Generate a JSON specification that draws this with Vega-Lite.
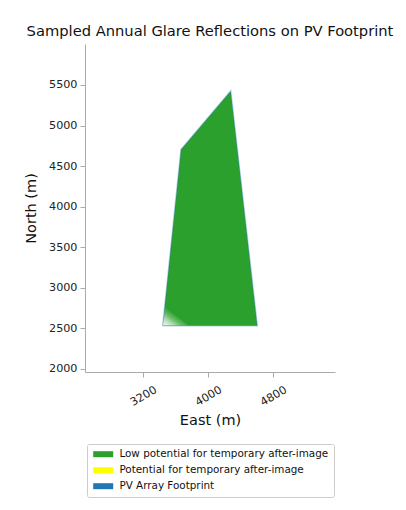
{
  "$schema": "https://vega.github.io/schema/vega-lite/v6.json",
  "width": 250,
  "height": 328,
  "autosize": "none",
  "padding": {"left": 85, "top": 44, "right": 71, "bottom": 138},
  "background": "white",
  "title": {
    "text": "Sampled Annual Glare Reflections on PV Footprint",
    "font": "DejaVu Sans",
    "fontSize": 14.7,
    "fontWeight": "normal",
    "color": "#111",
    "anchor": "middle",
    "offset": 5
  },
  "config": {
    "view": {"stroke": null},
    "font": "DejaVu Sans",
    "axis": {
      "grid": false,
      "domainColor": "#aaaaaa",
      "tickColor": "#aaaaaa",
      "tickSize": 5,
      "format": "d",
      "labelFont": "DejaVu Sans",
      "labelFontSize": 11.2,
      "labelColor": "#222",
      "titleFont": "DejaVu Sans",
      "titleFontSize": 14.5,
      "titleFontWeight": "normal",
      "titleColor": "#111"
    }
  },
  "datasets": {
    "fill": [
      {"north": 2533, "east_left": 3439, "east_right": 4603, "category": "Low potential for temporary after-image"},
      {"north": 4705, "east_left": 3664, "east_right": 4358, "category": "Low potential for temporary after-image"},
      {"north": 5427, "east_left": 4276, "east_right": 4276, "category": "Low potential for temporary after-image"}
    ],
    "gap": [
      {"north": 2533, "east_left": 3439, "east_right": 3760},
      {"north": 2760, "east_left": 3463, "east_right": 3463}
    ],
    "outline": [
      {"order": 1, "east": 3439, "north": 2533},
      {"order": 2, "east": 4603, "north": 2533},
      {"order": 3, "east": 4276, "north": 5427},
      {"order": 4, "east": 3664, "north": 4705},
      {"order": 5, "east": 3439, "north": 2533}
    ]
  },
  "layer": [
    {
      "data": {"name": "fill"},
      "mark": {"type": "area", "orient": "horizontal", "opacity": 1},
      "encoding": {
        "y": {
          "field": "north", "type": "quantitative",
          "scale": {"domain": [1963, 6005], "zero": false, "nice": false},
          "axis": {"title": "North (m)", "values": [2000, 2500, 3000, 3500, 4000, 4500, 5000, 5500], "labelPadding": 3, "titlePadding": 10}
        },
        "x": {
          "field": "east_left", "type": "quantitative",
          "scale": {"domain": [2483, 5559], "zero": false, "nice": false},
          "axis": {"title": "East (m)", "values": [3200, 4000, 4800], "labelAngle": -30, "labelAlign": "center", "labelBaseline": "middle", "labelPadding": 19, "titlePadding": 6}
        },
        "x2": {"field": "east_right"},
        "color": {
          "field": "category", "type": "nominal",
          "scale": {
            "domain": ["Low potential for temporary after-image", "Potential for temporary after-image", "PV Array Footprint"],
            "range": ["#2ca02c", "#ffff00", "#1f77b4"]
          },
          "legend": {
            "title": null,
            "orient": "none",
            "legendX": 2,
            "legendY": 400,
            "direction": "vertical",
            "fillColor": "white",
            "strokeColor": "#cccccc",
            "cornerRadius": 2,
            "padding": 5,
            "symbolType": "M-2,-0.6H2V0.6H-2Z",
            "symbolSize": 100,
            "symbolOffset": 6,
            "symbolStrokeWidth": 0,
            "symbolOpacity": 1,
            "labelFont": "DejaVu Sans",
            "labelFontSize": 10.4,
            "labelColor": "#111",
            "labelOffset": 11,
            "rowPadding": 5,
            "labelLimit": 300
          }
        }
      }
    },
    {
      "data": {"name": "gap"},
      "mark": {
        "type": "area", "orient": "horizontal",
        "color": {
          "gradient": "linear", "x1": 0, "y1": 1, "x2": 0.7, "y2": 0.3,
          "stops": [
            {"offset": 0, "color": "rgba(255,255,255,1)"},
            {"offset": 0.35, "color": "rgba(255,255,255,0.6)"},
            {"offset": 1, "color": "rgba(44,160,44,0)"}
          ]
        }
      },
      "encoding": {
        "y": {"field": "north", "type": "quantitative"},
        "x": {"field": "east_left", "type": "quantitative"},
        "x2": {"field": "east_right"}
      }
    },
    {
      "data": {"name": "outline"},
      "mark": {"type": "line", "color": "#1f77b4", "opacity": 0.35, "strokeWidth": 1.5},
      "encoding": {
        "x": {"field": "east", "type": "quantitative"},
        "y": {"field": "north", "type": "quantitative"},
        "order": {"field": "order", "type": "quantitative"}
      }
    }
  ]
}
